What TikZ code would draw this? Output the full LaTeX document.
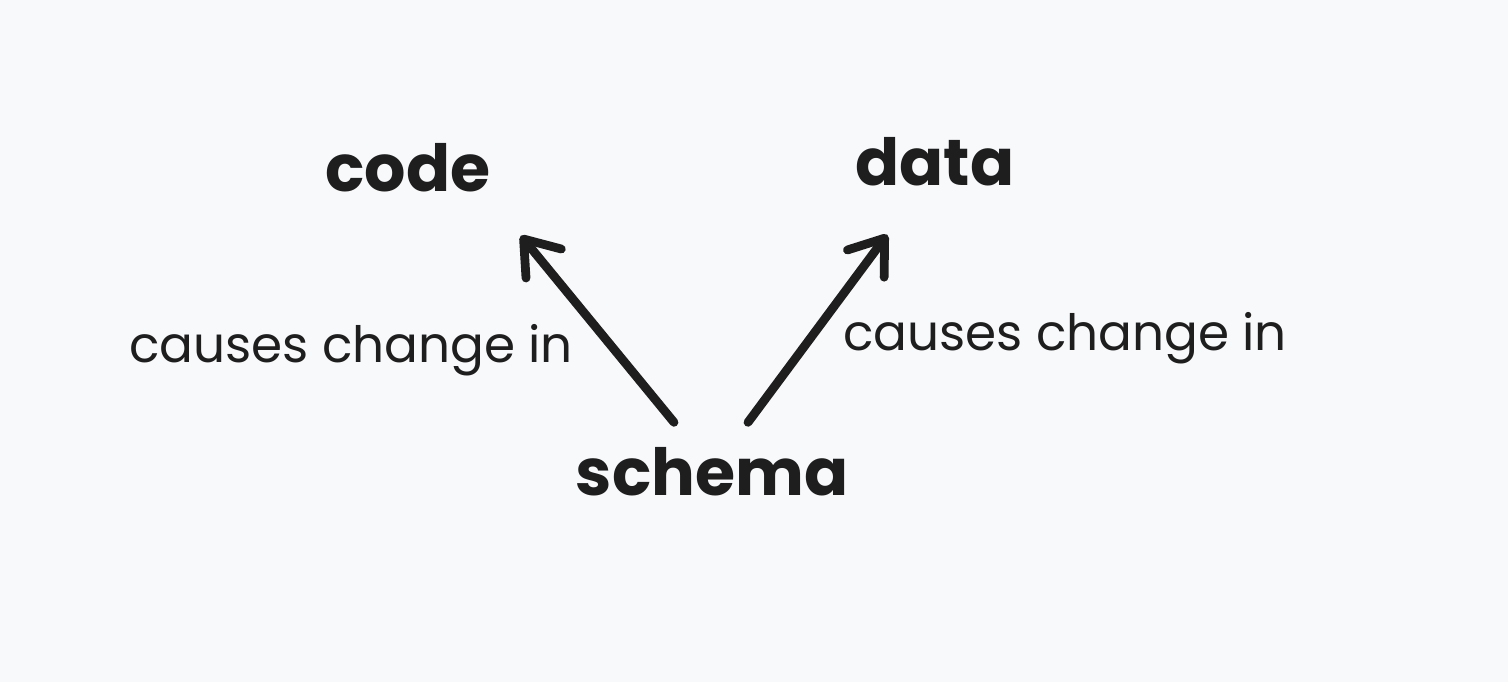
\documentclass[tikz,border=0pt]{standalone}
\usepackage{fontspec}
\setmainfont{Poppins}
\usetikzlibrary{arrows.meta,calc}
\definecolor{paper}{HTML}{F8F9FB}
\definecolor{ink}{HTML}{1E1E1E}
\tikzset{
  word/.style={text=ink, inner sep=0pt, font=\fontsize{37}{40}\selectfont\bfseries},
  remark/.style={text=ink, inner sep=0pt, font=\fontsize{28.5}{30}\selectfont},
  causes/.style={draw=ink, line width=5pt, line cap=round,
    -{Straight Barb[length=18pt, width=26pt, round]}},
}

\begin{document}
\begin{tikzpicture}[x=0.02cm, y=-0.02cm]
    \fill[paper] (0,0) rectangle (1508,682);
    \useasboundingbox (0,0) rectangle (1508,682);
    \node[word] (code) at (408,168) {code};
    \node[word] (data) at (935,162) {data};
    \node[word] (schema) at (712,472) {schema};
    \node[remark] (leftnote) at (351,350) {causes change in};
    \node[remark] (rightnote) at (1065,338) {causes change in};
    \draw[causes] ($(schema.north)+(-38,-25)$) -- ($(code.south east)+(30,43)$);
    \draw[causes] ($(schema.north)+(36,-25)$) -- ($(data.south west)+(32,48)$);
\end{tikzpicture}
\end{document}
